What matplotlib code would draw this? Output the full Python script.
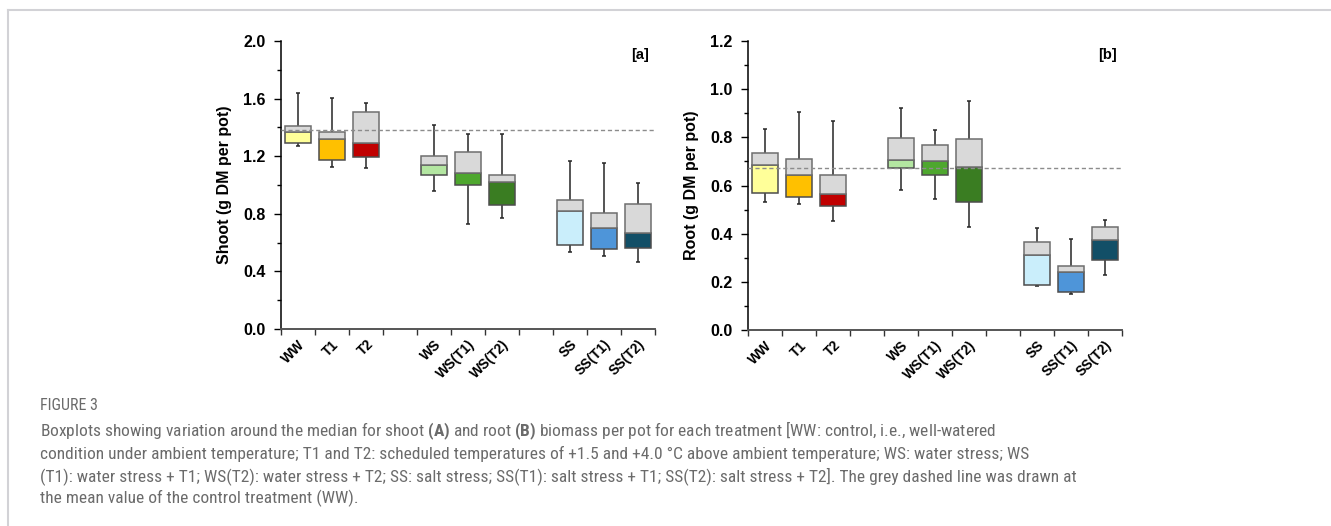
import numpy as np
import matplotlib.pyplot as plt
from matplotlib import font_manager
from matplotlib.lines import Line2D

# treatments, in plot order
labels = ['WW', 'T1', 'T2', 'WS', 'WS(T1)', 'WS(T2)', 'SS', 'SS(T1)', 'SS(T2)']
positions = [0.5, 1.5, 2.5, 4.5, 5.5, 6.5, 8.5, 9.5, 10.5]
colours = ['#FFFF99', '#FFC000', '#C00000', '#B3E6A1', '#4EA72E', '#3A7D22',
           '#CAEEFB', '#4E95D9', '#124F67']

# shoot (g DM per pot): whisker low, Q1, median, Q3, whisker high
shoot_wlo = [1.269, 1.123, 1.118, 0.956, 0.729, 0.769, 0.535, 0.509, 0.465]
shoot_q1 = [1.289, 1.176, 1.192, 1.069, 0.998, 0.863, 0.583, 0.553, 0.565]
shoot_med = [1.370, 1.319, 1.289, 1.137, 1.081, 1.019, 0.817, 0.704, 0.667]
shoot_q3 = [1.412, 1.370, 1.505, 1.204, 1.227, 1.067, 0.898, 0.808, 0.866]
shoot_whi = [1.637, 1.606, 1.572, 1.417, 1.356, 1.356, 1.167, 1.153, 1.014]
shoot_ctrl = 1.384

# root (g DM per pot)
root_wlo = [0.530, 0.523, 0.451, 0.583, 0.545, 0.426, 0.183, 0.149, 0.227]
root_q1 = [0.569, 0.552, 0.513, 0.674, 0.642, 0.531, 0.188, 0.156, 0.291]
root_med = [0.687, 0.645, 0.563, 0.707, 0.702, 0.675, 0.310, 0.239, 0.372]
root_q3 = [0.736, 0.709, 0.645, 0.797, 0.767, 0.793, 0.367, 0.267, 0.426]
root_whi = [0.833, 0.905, 0.869, 0.923, 0.832, 0.952, 0.424, 0.378, 0.455]
root_ctrl = 0.673

plt.rcParams['font.family'] = ['Liberation Sans', 'DejaVu Sans']

# caption font: a narrow face if one is installed
installed = {(f.name, f.stretch) for f in font_manager.fontManager.ttflist}
names = {n for n, s in installed}
cap_family, cap_stretch, cap_size = 'Roboto', 'normal', 11.2
for n in ['Liberation Sans Narrow', 'Roboto Condensed', 'Open Sans Condensed',
          'Noto Sans Condensed', 'DejaVu Sans Condensed']:
    if n in names:
        cap_family, cap_size = n, 12.5
        break
else:
    for n in ['Noto Sans', 'Open Sans', 'DejaVu Sans', 'Roboto']:
        if (n, 'condensed') in installed or (n, 'semi-condensed') in installed:
            cap_family, cap_size = n, 12.0
            cap_stretch = 'condensed' if (n, 'condensed') in installed else 'semi-condensed'
            break
plt.rcParams['mathtext.fontset'] = 'custom'
plt.rcParams['mathtext.bf'] = f'{cap_family}:bold'
plt.rcParams['mathtext.rm'] = cap_family


def panel(ax, wlo, q1, med, q3, whi, ctrl, ymax, major, minor, ylabel, tag):
    x = np.array(positions)
    q1, med, q3 = np.array(q1), np.array(med), np.array(q3)
    # whiskers first so boxes cover them
    ax.vlines(x, wlo, q1, color='#262626', lw=1.1, zorder=2)
    ax.vlines(x, q3, whi, color='#262626', lw=1.1, zorder=2)
    ax.hlines(wlo, x - 0.06, x + 0.06, color='#262626', lw=1.1, zorder=2)
    ax.hlines(whi, x - 0.06, x + 0.06, color='#262626', lw=1.1, zorder=2)
    # lower half coloured, upper half grey
    ax.bar(x, med - q1, bottom=q1, width=0.77, color=colours,
           edgecolor='#4d4d4d', lw=1.1, zorder=3)
    ax.bar(x, q3 - med, bottom=med, width=0.77, color='#D9D9D9',
           edgecolor='#6e6e6e', lw=1.1, zorder=3)
    ax.axhline(ctrl, color='#8c8c8c', lw=1.0, ls=(0, (3, 2)), zorder=4)

    ax.set_xlim(0, 11)
    ax.set_ylim(0, ymax)
    ax.set_yticks(np.arange(0, ymax + 1e-9, major))
    ax.set_yticks(np.arange(0, ymax + 1e-9, minor), minor=True)
    ax.set_yticklabels([f'{v:.1f}' for v in np.arange(0, ymax + 1e-9, major)],
                       fontsize=11.5, fontweight='bold')
    ax.set_xticks(np.arange(0, 12))
    ax.set_xticks(x, minor=True)
    ax.set_xticklabels([])
    ax.set_xticklabels(labels, minor=True, rotation=45, ha='right',
                       rotation_mode='anchor', fontsize=10, fontweight='bold')
    ax.tick_params(axis='x', which='major', length=4, width=1, color='#333333')
    ax.tick_params(axis='x', which='minor', length=0, pad=6)
    ax.tick_params(axis='y', which='major', length=5, width=1, pad=6)
    ax.tick_params(axis='y', which='minor', length=3, width=1)
    ax.spines['top'].set_visible(False)
    ax.spines['right'].set_visible(False)
    ax.spines['left'].set_linewidth(1.1)
    ax.spines['bottom'].set_color('#555555')
    ax.spines['bottom'].set_linewidth(1.4)
    ax.set_ylabel(ylabel, fontsize=11.5, fontweight='bold', labelpad=8)
    ax.text(0.985, 0.95, tag, transform=ax.transAxes, ha='right', va='center',
            fontsize=10.5, fontweight='bold')


fig = plt.figure(figsize=(13.31, 5.26), dpi=100)
ax1 = fig.add_axes([0.2111, 0.3745, 0.281, 0.5475])
ax2 = fig.add_axes([0.5620, 0.3726, 0.281, 0.5494])

panel(ax1, shoot_wlo, shoot_q1, shoot_med, shoot_q3, shoot_whi, shoot_ctrl,
      2.0, 0.4, 0.2, 'Shoot (g DM per pot)', '[a]')
panel(ax2, root_wlo, root_q1, root_med, root_q3, root_whi, root_ctrl,
      1.2, 0.2, 0.1, 'Root (g DM per pot)', '[b]')

# page frame (top and left edges)
fig.add_artist(Line2D([8 / 1331, 1], [1 - 10 / 526, 1 - 10 / 526],
                      transform=fig.transFigure, color='#d2d2d6', lw=1.5))
fig.add_artist(Line2D([8 / 1331, 8 / 1331], [0, 1 - 10 / 526],
                      transform=fig.transFigure, color='#d2d2d6', lw=1.5))

# caption
grey = '#6b6b6b'
fig.text(40 / 1331, 1 - 406 / 526, 'FIGURE 3', fontsize=cap_size - 1.0,
         color=grey, family=cap_family, stretch=cap_stretch, va='center')
lines = [
    'Boxplots showing variation around the median for shoot $\\bf{(A)}$ and root $\\bf{(B)}$ biomass per pot for each treatment [WW: control, i.e., well-watered',
    'condition under ambient temperature; T1 and T2: scheduled temperatures of +1.5 and +4.0 °C above ambient temperature; WS: water stress; WS',
    '(T1): water stress + T1; WS(T2): water stress + T2; SS: salt stress; SS(T1): salt stress + T1; SS(T2): salt stress + T2]. The grey dashed line was drawn at',
    'the mean value of the control treatment (WW).',
]
for i, s in enumerate(lines):
    fig.text(40 / 1331, 1 - (431 + i * 22.5) / 526, s, fontsize=cap_size,
             color=grey, family=cap_family, stretch=cap_stretch, va='center')

fig.savefig('out.png', dpi=100)
